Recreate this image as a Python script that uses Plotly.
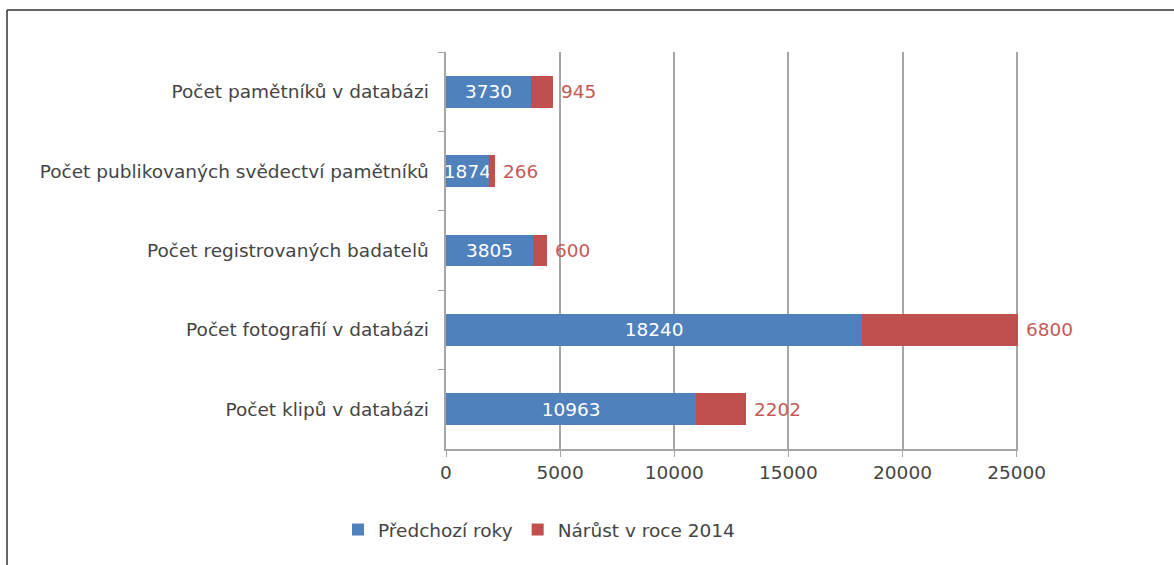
import plotly.graph_objects as go

categories = [
    "Počet pamětníků v databázi",
    "Počet publikovaných svědectví pamětníků",
    "Počet registrovaných badatelů",
    "Počet fotografií v databázi",
    "Počet klipů v databázi",
]
previous_years = [3730, 1874, 3805, 18240, 10963]
growth_2014 = [945, 266, 600, 6800, 2202]
series_names = ["Předchozí roky", "Nárůst v roce 2014"]
x_ticks = [0, 5000, 10000, 15000, 20000, 25000]

BLUE = "#4f81bd"
RED = "#c0504d"
LABEL_RED = "#c55a57"
FONT = "DejaVu Sans"
FS = 18.5

fig = go.Figure()
fig.add_trace(go.Bar(
    y=categories, x=previous_years, orientation="h", name=series_names[0],
    marker=dict(color=BLUE, line=dict(width=0)),
    text=[str(v) for v in previous_years], textposition="inside",
    insidetextanchor="middle", constraintext="none",
    textfont=dict(color="white", size=FS, family=FONT),
    cliponaxis=False,
))
fig.add_trace(go.Bar(
    y=categories, x=growth_2014, orientation="h", name=series_names[1],
    marker=dict(color=RED, line=dict(width=0)),
    textposition="none",
))

# red value labels at the end of each stacked bar
for cat, p, g in zip(categories, previous_years, growth_2014):
    fig.add_annotation(x=p + g, y=cat, xref="x", yref="y", text=str(g),
                       showarrow=False, xanchor="left", yanchor="middle", xshift=6,
                       font=dict(color=LABEL_RED, size=FS, family=FONT))

# plot area in pixels: left 446, right 1018, top 52, bottom 449
W, H = 1174, 565
L, R, T, B = 446, 1018, 52, 449
pw, ph = R - L, B - T
def px(x):
    return (x - L) / pw
def py(y):
    return (B - y) / ph

fig.update_layout(
    width=W, height=H,
    margin=dict(l=L, r=W - R, t=T, b=H - B),
    paper_bgcolor="white", plot_bgcolor="white",
    barmode="stack", bargap=0.6,
    font=dict(family=FONT, size=FS, color="#454545"),
    showlegend=True,
    legend=dict(orientation="h", x=px(338), xanchor="left", y=py(530), yanchor="middle",
                font=dict(size=FS, color="#454545"), traceorder="normal",
                itemwidth=30, bgcolor="rgba(0,0,0,0)"),
    xaxis=dict(range=[0, 25060], tickvals=x_ticks, ticktext=[str(v) for v in x_ticks],
               showgrid=True, gridcolor="#a6a6a6", gridwidth=1.5,
               showline=True, linecolor="#a6a6a6", linewidth=1.5,
               ticks="outside", ticklen=6, tickcolor="#a6a6a6",
               tickfont=dict(size=FS, color="#454545"), zeroline=False),
    yaxis=dict(autorange="reversed", showline=True, linecolor="#a6a6a6", linewidth=1.5,
               ticks="outside", tickson="boundaries", ticklen=6, tickcolor="#a6a6a6",
               tickfont=dict(size=FS, color="#454545"), showgrid=False,
               ticksuffix="  "),
    shapes=[
        dict(type="line", xref="paper", yref="paper", x0=px(7), x1=px(1180), y0=py(10), y1=py(10),
             line=dict(color="#333333", width=1.5)),
        dict(type="line", xref="paper", yref="paper", x0=px(7), x1=px(7), y0=py(10), y1=py(570),
             line=dict(color="#333333", width=1.5)),
    ],
)

fig.write_html("out.html", config={"displayModeBar": False},
               post_script="document.body.style.margin='0';document.body.style.overflow='hidden';")
